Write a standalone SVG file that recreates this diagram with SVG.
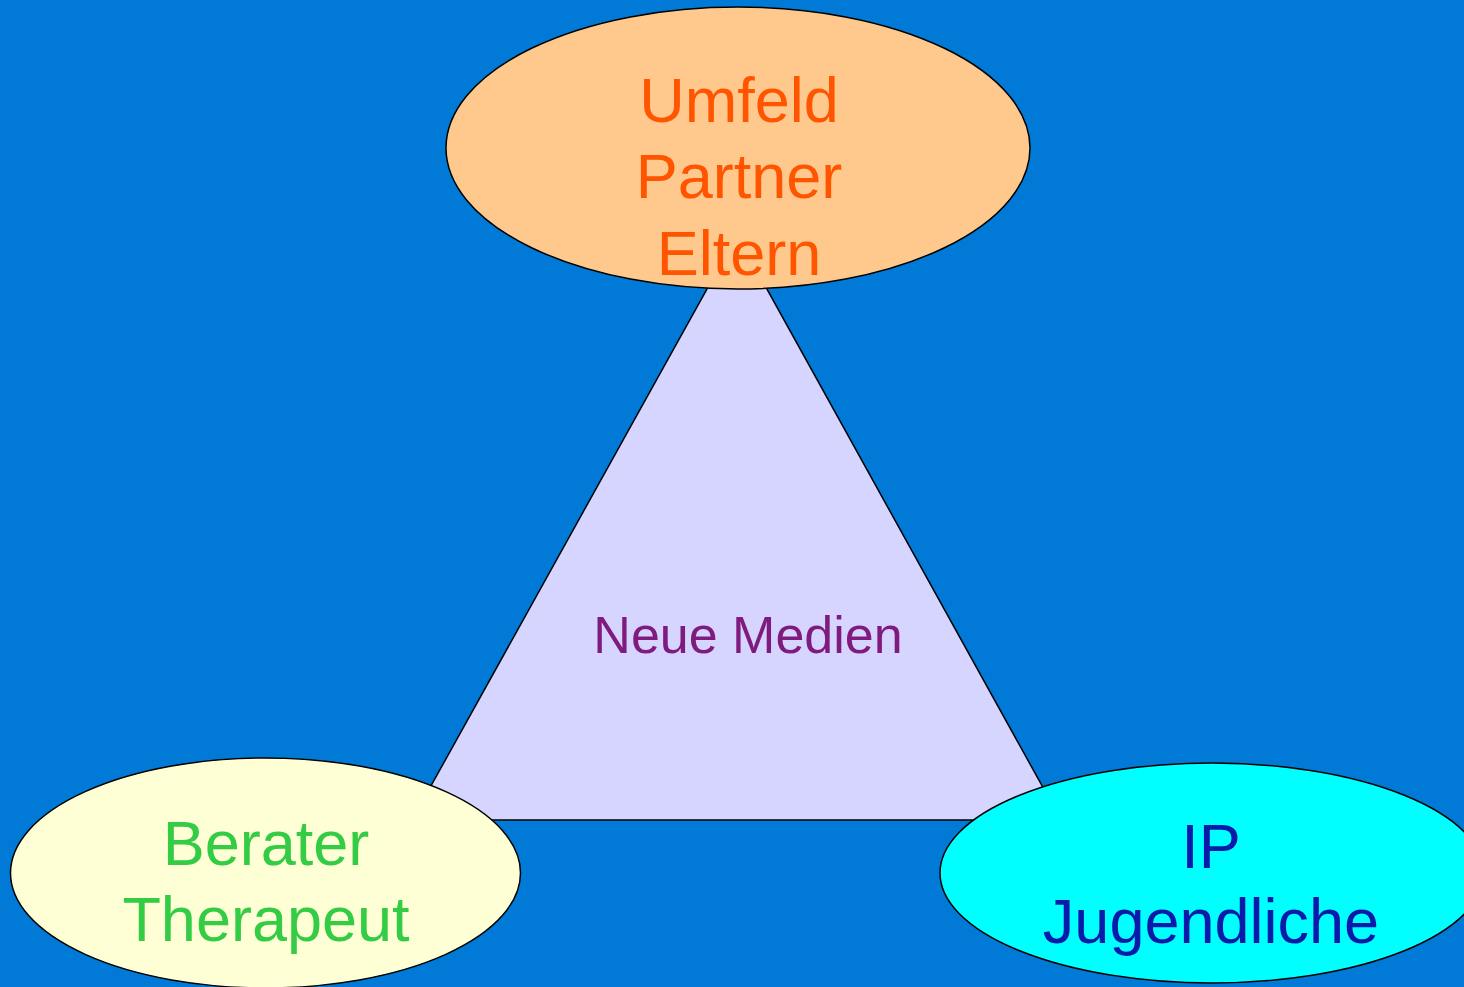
<svg xmlns="http://www.w3.org/2000/svg" width="1464" height="987" viewBox="0 0 1464 987">
<style>
.n{stroke:#000;stroke-width:1.5}
text{font-family:"Liberation Sans",Arial,Helvetica,sans-serif;text-anchor:middle}
.big{font-size:63px}
</style>
<rect x="0" y="0" width="1464" height="987" fill="#007AD6"/>
<g id="connectors">
<polygon id="triangle" points="737,235 412,820 1061,820" fill="#D5D5FF" stroke="#000" stroke-width="1.5"/>
<text x="748" y="653" style="font-size:52px" fill="#7F1A7F">Neue Medien</text>
</g>
<g id="umfeld">
<ellipse class="n" cx="738" cy="148" rx="292" ry="141" fill="#FFC88C"/>
<text class="big" x="739" y="122" fill="#FF5500">Umfeld</text>
<text class="big" x="739" y="198" fill="#FF5500">Partner</text>
<text class="big" x="739" y="275" fill="#FF5500">Eltern</text>
</g>
<g id="berater">
<ellipse class="n" cx="265.5" cy="873" rx="255" ry="115" fill="#FFFFD5"/>
<text class="big" x="266" y="865" fill="#33CC44">Berater</text>
<text class="big" x="266" y="941" fill="#33CC44">Therapeut</text>
</g>
<g id="ip">
<ellipse class="n" cx="1212" cy="873" rx="272" ry="110" fill="#00FFFF"/>
<text class="big" x="1211" y="868" fill="#0A1AAA">IP</text>
<text class="big" x="1211" y="943" fill="#0A1AAA">Jugendliche</text>
</g>
</svg>
